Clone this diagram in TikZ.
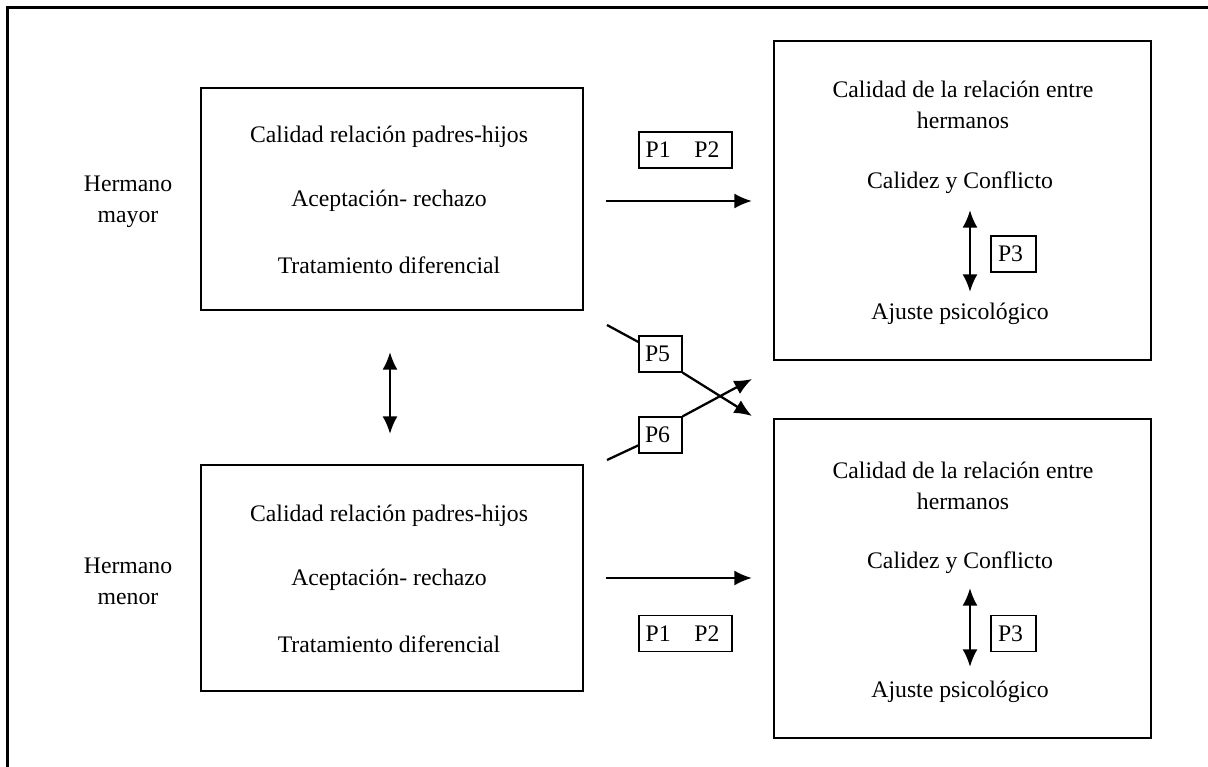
\documentclass[tikz,border=0pt]{standalone}
\usepackage{fontspec}
\setmainfont{Liberation Serif}
\usetikzlibrary{arrows.meta}

\begin{document}
\begin{tikzpicture}[x = 0.02cm, y = -0.02cm,
    every node/.style = { align = center, font = \fontsize{13.5}{17.5}\selectfont },
    box/.style = { draw, line width = .9pt, inner sep = 0pt },
    pbox/.style = { draw, line width = .8pt, inner sep = 0pt, minimum height = .72cm },
    arr/.style = { line width = 1.3pt, -{Latex[length = 10pt, width = 8.5pt]} },
    dblarr/.style = { line width = 1.3pt, {Latex[length = 10pt, width = 8.5pt]}-{Latex[length = 10pt, width = 8.5pt]} }]
    \useasboundingbox (0,0) rectangle (1208,767);
    % frame, top and left only
    \draw [line width = 1.7pt] (7.5,767) -- (7.5,7.5) -- (1208,7.5);

    % left side
    \node [box, minimum width = 7.64cm, minimum height = 4.44cm] (mayor) at (392,199) {};
    \node [box, minimum width = 7.64cm, minimum height = 4.52cm] (menor) at (392,578) {};
    \node (lblmayor) at (128,202) { Hermano\\ mayor };
    \node (lblmenor) at (128,581) { Hermano\\ menor };
    \node (cal1) at (392,137) { Calidad relación padres-hijos };
    \node (ace1) at (392,201) { Aceptación- rechazo };
    \node (tra1) at (392,265) { Tratamiento diferencial };
    \node (cal2) at (392,516) { Calidad relación padres-hijos };
    \node (ace2) at (392,580) { Aceptación- rechazo };
    \node (tra2) at (392,644) { Tratamiento diferencial };

    % right side
    \node [box, minimum width = 7.54cm, minimum height = 6.38cm] (herm1) at (962.5,200.5) {};
    \node [box, minimum width = 7.54cm, minimum height = 6.38cm] (herm2) at (962.5,578.5) {};
    \node (rel1) at (963,105) { Calidad de la relación entre\\ hermanos };
    \node (cc1) at (963,183) { Calidez y Conflicto };
    \node (aj1) at (963,314) { Ajuste psicológico };
    \node (rel2) at (963,486) { Calidad de la relación entre\\ hermanos };
    \node (cc2) at (963,563) { Calidez y Conflicto };
    \node (aj2) at (963,692) { Ajuste psicológico };

    % paths
    \node [pbox, minimum width = 1.86cm] (p12a) at (685.5,150) { P1\quad P2 };
    \node [pbox, minimum width = 1.86cm] (p12b) at (685.5,633.5) { P1\quad P2 };
    \node [pbox, minimum width = .9cm] (p3a) at (1013.5,254) { P3 };
    \node [pbox, minimum width = .9cm] (p3b) at (1013.5,633.5) { P3 };
    \node [pbox, minimum width = .86cm] (p5) at (660.5,354) { P5 };
    \node [pbox, minimum width = .86cm] (p6) at (660.5,435) { P6 };

    \coordinate (a1) at (606,201);   \coordinate (b1) at (752,201);
    \coordinate (a2) at (606,578);   \coordinate (b2) at (752,578);
    \coordinate (c1) at (390,352);   \coordinate (c2) at (390,434);
    \coordinate (d1) at (970,210);   \coordinate (d2) at (970,292);
    \coordinate (e1) at (970,588);   \coordinate (e2) at (970,667);
    \coordinate (p5in) at (607,325); \coordinate (p5out) at (752,416);
    \coordinate (p6in) at (607,460); \coordinate (p6out) at (752,379);

    \draw [arr] (a1) -- (b1);
    \draw [arr] (a2) -- (b2);
    \draw [dblarr] (c1) -- (c2);
    \draw [dblarr] (d1) -- (d2);
    \draw [dblarr] (e1) -- (e2);
    \draw [line width = 1.3pt] (p5in) -- (p5);
    \draw [arr] (p5.south east) -- (p5out);
    \draw [line width = 1.3pt] (p6in) -- (p6);
    \draw [arr] (p6.north east) -- (p6out);
\end{tikzpicture}
\end{document}
